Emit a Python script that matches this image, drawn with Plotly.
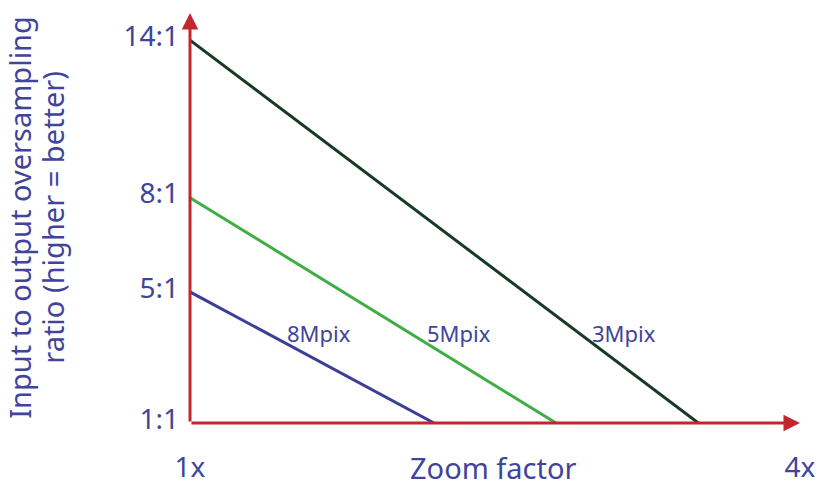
import plotly.graph_objects as go

# ---- data (read from the schematic) ----
series_names = ["8Mpix", "5Mpix", "3Mpix"]
series_colors = ["#3c3f98", "#3fae44", "#173a24"]
start_zoom = [1.0, 1.0, 1.0]
start_ratio_level = [5.45, 8.65, 14.0]   # level on the schematic ratio scale at 1x
end_zoom = [2.2, 2.8, 3.5]               # zoom where oversampling reaches 1:1
end_ratio_level = [1.0, 1.0, 1.0]

y_tick_levels = [1, 5.45, 8.65, 14]
y_tick_labels = ["1:1", "5:1", "8:1", "14:1"]
x_tick_vals = [1, 4]
x_tick_labels = ["1x", "4x"]

TEXT = "#41449a"
RED = "#c1272d"
FONT = "Noto Sans"

X_RANGE = [1, 4]
Y_RANGE = [1, 14.92]

fig = go.Figure()
for name, col, x0, y0, x1, y1 in zip(series_names, series_colors, start_zoom,
                                      start_ratio_level, end_zoom, end_ratio_level):
    fig.add_trace(go.Scatter(x=[x0, x1], y=[y0, y1], mode="lines", name=name,
                             line=dict(color=col, width=3), showlegend=False,
                             hoverinfo="skip"))

# series labels
label_pos = {"8Mpix": (1.634, 4.05), "5Mpix": (2.323, 4.05), "3Mpix": (3.134, 4.05)}
for name in series_names:
    lx, ly = label_pos[name]
    fig.add_annotation(x=lx, y=ly, xref="x", yref="y", text=name, showarrow=False,
                       font=dict(family=FONT, size=22, color=TEXT),
                       xanchor="center", yanchor="middle")

# axes with arrowheads
fig.add_annotation(x=X_RANGE[1], y=Y_RANGE[0], ax=X_RANGE[0], ay=Y_RANGE[0],
                   xref="x", yref="y", axref="x", ayref="y", text="",
                   showarrow=True, arrowhead=2, arrowsize=1.1, arrowwidth=3,
                   arrowcolor=RED)
fig.add_annotation(x=X_RANGE[0], y=Y_RANGE[1], ax=X_RANGE[0], ay=Y_RANGE[0],
                   xref="x", yref="y", axref="x", ayref="y", text="",
                   showarrow=True, arrowhead=2, arrowsize=1.1, arrowwidth=3,
                   arrowcolor=RED)

# x axis title on the tick-label row
fig.add_annotation(x=0.497, y=-0.108, xref="paper", yref="paper", text="Zoom factor",
                   showarrow=False, font=dict(family=FONT, size=29, color=TEXT),
                   xanchor="center", yanchor="middle")

# y axis title (two centred lines)
fig.add_annotation(x=-0.2787, y=0.503, xref="paper", yref="paper",
                   text="Input to output oversampling", textangle=-90,
                   showarrow=False, font=dict(family=FONT, size=29, color=TEXT),
                   xanchor="center", yanchor="middle")
fig.add_annotation(x=-0.2246, y=0.503, xref="paper", yref="paper",
                   text="ratio (higher = better)", textangle=-90,
                   showarrow=False, font=dict(family=FONT, size=29, color=TEXT),
                   xanchor="center", yanchor="middle")

fig.update_layout(
    width=825, height=492, autosize=False,
    margin=dict(l=190, r=25, t=13, b=69),
    paper_bgcolor="white", plot_bgcolor="white",
    showlegend=False,
    xaxis=dict(range=X_RANGE, tickvals=x_tick_vals, ticktext=x_tick_labels,
               showgrid=False, zeroline=False, showline=False, ticks="",
               ticklabelstandoff=25, automargin=False,
               tickfont=dict(family=FONT, size=28, color=TEXT), fixedrange=True),
    yaxis=dict(range=Y_RANGE, tickvals=y_tick_levels, ticktext=y_tick_labels,
               showgrid=False, zeroline=False, showline=False, ticks="",
               ticklabelstandoff=10, ticklabelshift=-4, automargin=False,
               tickfont=dict(family=FONT, size=28, color=TEXT), fixedrange=True),
)

fig.write_html("out.html", config={"displayModeBar": False},
               post_script="document.body.style.margin='0';document.body.style.overflow='hidden';")
